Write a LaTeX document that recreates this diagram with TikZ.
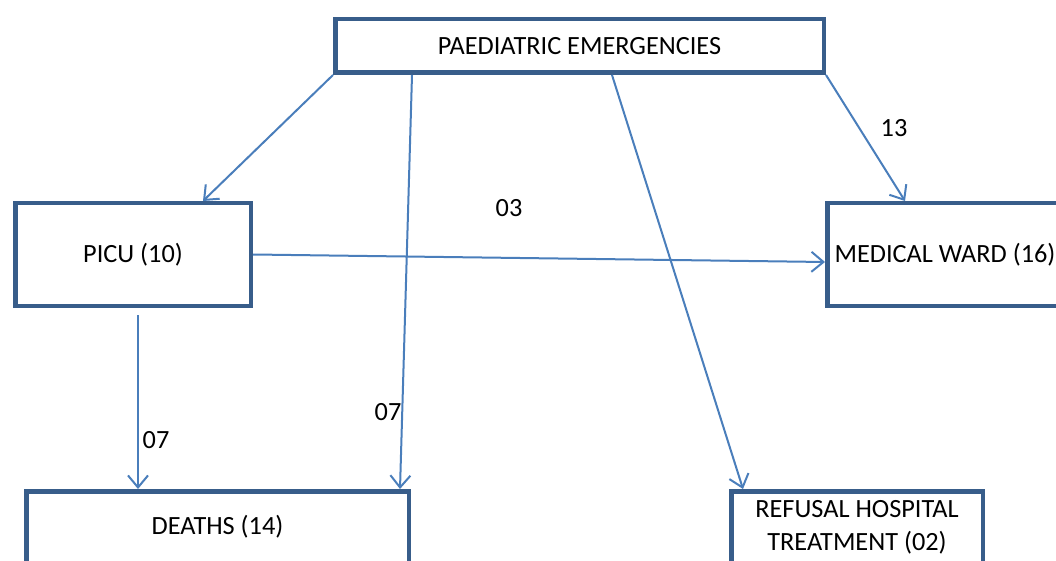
\documentclass[tikz,border=0pt]{standalone}
\usepackage{fontspec}
\setmainfont{Carlito}
\usetikzlibrary{arrows.meta,calc}
\definecolor{boxc}{HTML}{385D8A}
\definecolor{arrc}{HTML}{4A7EBB}
\begin{document}
\begin{tikzpicture}[x=1pt,y=-1pt,
  box/.style={draw=boxc,line width=4.5pt,rectangle,inner sep=0pt,align=center,
    font=\fontsize{26.3}{33}\selectfont},
  conn/.style={draw=arrc,line width=2pt,-{Straight Barb[length=12pt,width=20pt,line width=2pt]}},
  lbl/.style={font=\fontsize{26.3}{30}\selectfont,inner sep=0pt}]
\useasboundingbox (0,0) rectangle (1056,561);
\clip (0,0) rectangle (1056,561);
\node[box,minimum width=488.5pt,minimum height=53.5pt] (top) at (579.5,46) {PAEDIATRIC EMERGENCIES};
\node[box,minimum width=235.5pt,minimum height=102.5pt] (picu) at (133,254.5) {PICU (10)};
\node[box,minimum width=235.5pt,minimum height=102.5pt] (med) at (945,254.5) {MEDICAL WARD (16)};
\node[box,minimum width=382.5pt,minimum height=71.5pt] (deaths) at (217.5,527) {DEATHS (14)};
\node[box,minimum width=251.5pt,minimum height=71.5pt] (ref) at (857,527) {REFUSAL HOSPITAL\\TREATMENT (02)};
\draw[conn] (top.south west) -- ([xshift=190pt]picu.north west);
\draw[conn] ([xshift=79pt]top.south west) -- ([xshift=376pt]deaths.north west);
\draw[conn] ([xshift=279pt]top.south west) -- ([xshift=14pt]ref.north west);
\draw[conn] (top.south east) -- ([xshift=80pt]med.north west);
\draw[conn] (picu.east) -- ([yshift=-7.5pt]med.west);
\draw[conn] ([xshift=125pt,yshift=-7pt]picu.south west) -- ([xshift=114pt]deaths.north west);
\node[lbl] (l13) at (894,128) {13};
\node[lbl] (l03) at (509,208) {03};
\node[lbl] (l07a) at (388,412) {07};
\node[lbl] (l07b) at (156,440) {07};
\end{tikzpicture}
\end{document}
